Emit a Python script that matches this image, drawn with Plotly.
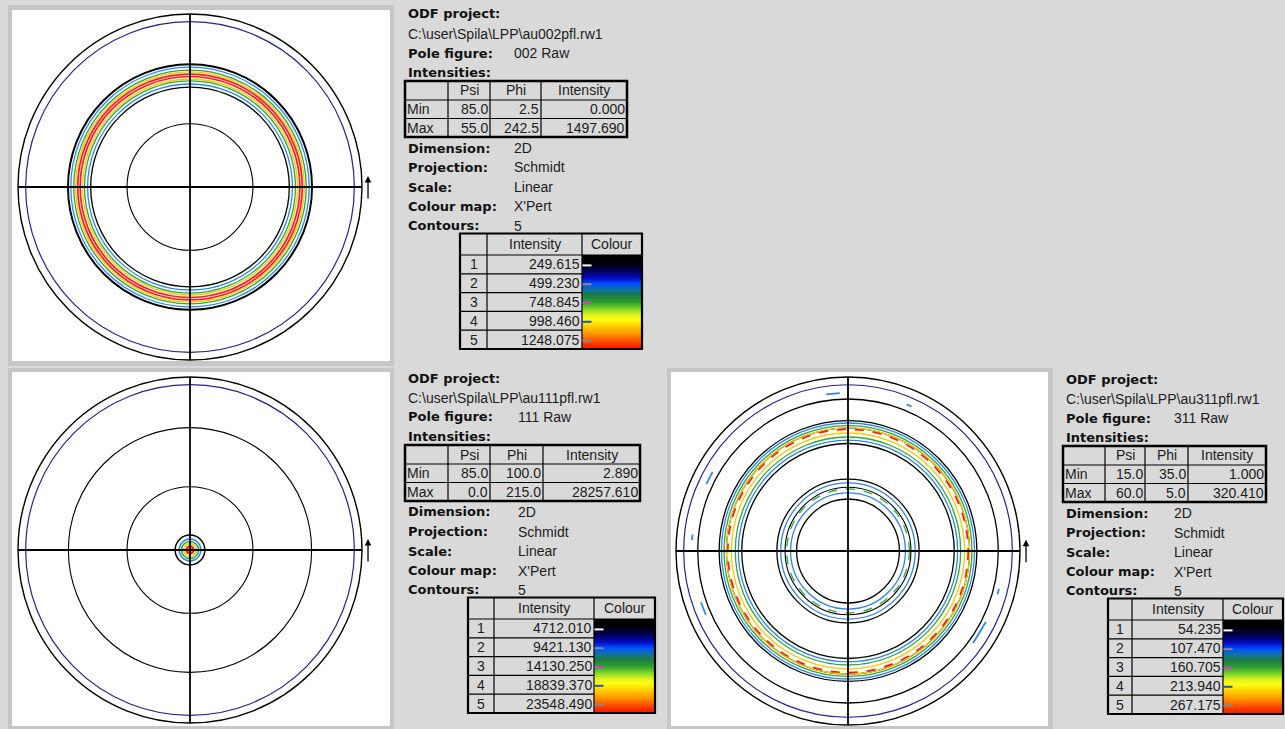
import numpy as np
import plotly.graph_objects as go

W, H = 1285, 729

# ---------------------------------------------------------------- data
pole_figures = ["002", "111", "311"]
odf_files = [
    "C:\\user\\Spila\\LPP\\au002pfl.rw1",
    "C:\\user\\Spila\\LPP\\au111pfl.rw1",
    "C:\\user\\Spila\\LPP\\au311pfl.rw1",
]
min_psi = [85.0, 85.0, 15.0]
min_phi = [2.5, 100.0, 35.0]
min_intensity = [0.000, 2.890, 1.000]
max_psi = [55.0, 0.0, 60.0]
max_phi = [242.5, 215.0, 5.0]
max_intensity = [1497.690, 28257.610, 320.410]

levels_002 = [249.615, 499.230, 748.845, 998.460, 1248.075]
levels_111 = [4712.010, 9421.130, 14130.250, 18839.370, 23548.490]
levels_311 = [54.235, 107.470, 160.705, 213.940, 267.175]

dimension = "2D"
projection = "Schmidt"
scale_type = "Linear"
colour_map = "X'Pert"

# reference circles of the net (psi, degrees) and the measurement limit
grid_psi = [30, 60, 90]
limit_psi = 85

# contour rings: psi of each iso-intensity line and its contour level
rings_002_psi = [60.4, 58.7, 57.1, 56.1, 55.0, 53.7, 52.4, 51.4, 49.8, 48.2]
rings_002_level = [1, 2, 3, 4, 5, 5, 4, 3, 2, 1]
rings_111_psi = [7.0, 5.1, 4.0, 3.0, 1.6]
rings_111_level = [1, 2, 3, 4, 5]
rings_311_psi = [76.3, 64.0, 62.7, 61.3, 60.0, 59.2, 57.3, 55.2, 53.6, 51.8,
                 34.0, 32.1, 29.2, 27.3, 24.4]
rings_311_level = [1, 1, 2, 3, 4, 5, 4, 3, 2, 1, 1, 2, 3, 2, 1]
# small level-2 islands near the rim of the 311 figure (psi, azimuth range)
islands_311_psi = [80.0, 80.0, 80.0, 79.5, 79.0, 80.0, 79.5]
islands_311_az_from = [93, 66, 150, 199, 324, 174, 344]
islands_311_az_to = [98, 68, 155, 204, 333, 176, 346]

# ---------------------------------------------------------------- styles
LEVEL_COLOURS = {1: "#000000", 2: "#2f86e6", 3: "#2fa63a", 4: "#f2cc00", 5: "#ff1a1a"}
BROKEN_311 = {5, 12}          # ring indices drawn as broken lines
XPERT_SCALE = [
    [0.00, "#000000"], [0.07, "#000000"], [0.17, "#00005e"], [0.25, "#0010d0"],
    [0.30, "#0050ff"], [0.36, "#1070b0"], [0.42, "#1a7a40"], [0.50, "#30a030"],
    [0.57, "#80d828"], [0.63, "#e0f020"], [0.68, "#ffff10"], [0.75, "#ffd000"],
    [0.83, "#ff9800"], [0.91, "#ff5000"], [1.00, "#ff0a00"],
]
LEVEL_TICKS = ["#ffffff", "#8a8a8a", "#d040d0", "#2050c0", "#8a8a8a"]
BG = "#d9d9d9"
FRAME = "#c6c6c6"
TXT = "#1c1c1c"
REG_FONT = "Liberation Sans, Arial, sans-serif"
BOLD_FONT = "DejaVu Sans, Verdana, sans-serif"

panels = [
    dict(frame=(8, 5, 394, 366), plot=(12, 10, 390, 361), centre=(190, 187), rx=172, ry=173),
    dict(frame=(8, 368, 394, 729), plot=(12, 372, 390, 726), centre=(190, 550), rx=172, ry=173),
    dict(frame=(667, 368, 1053, 729), plot=(671, 372, 1048, 726), centre=(848, 551), rx=172, ry=174),
]
info_boxes = [
    dict(x0=407, y0=14, xv=513, tcols=[405, 448, 490, 541, 627], ccols=[460, 487, 582, 642]),
    dict(x0=407, y0=378, xv=517, tcols=[405, 448, 490, 543, 640], ccols=[468, 494, 594, 655]),
    dict(x0=1065, y0=379, xv=1173, tcols=[1063, 1105, 1145, 1188, 1266], ccols=[1108, 1132, 1223, 1283]),
]


def schmidt(psi):
    """Equal-area (Schmidt) radius, 1 at psi = 90 deg."""
    return np.sqrt(2.0) * np.sin(np.radians(np.asarray(psi, dtype=float)) / 2.0)


def px(x):
    return x / W


def py(y):
    return 1 - y / H


fig = go.Figure()
shapes = []
annotations = []
layout_axes = {}


def paper_rect(x0, y0, x1, y1, fill=None, line_color=None, lw=0, layer="above"):
    shapes.append(dict(type="rect", xref="paper", yref="paper",
                       x0=px(x0), x1=px(x1), y0=py(y1), y1=py(y0),
                       fillcolor=fill if fill else "rgba(0,0,0,0)",
                       line=dict(color=line_color or "rgba(0,0,0,0)", width=lw),
                       layer=layer))


def paper_line(x0, y0, x1, y1, color="#000000", lw=1.0):
    shapes.append(dict(type="line", xref="paper", yref="paper",
                       x0=px(x0), x1=px(x1), y0=py(y0), y1=py(y1),
                       line=dict(color=color, width=lw)))


def text(x, y, s, anchor="left", bold=False, size=None):
    if bold:
        font = dict(family=BOLD_FONT, size=size or 13, color="#111111", weight="bold")
    else:
        font = dict(family=REG_FONT, size=size or 14, color=TXT)
    annotations.append(dict(xref="paper", yref="paper", x=px(x), y=py(y), text=s,
                            showarrow=False, xanchor=anchor, yanchor="middle",
                            borderpad=0, font=font))


# ---------------------------------------------------------------- pole figures
ring_sets = [
    (rings_002_psi, rings_002_level, set()),
    (rings_111_psi, rings_111_level, set()),
    (rings_311_psi, rings_311_level, BROKEN_311),
]

for i, p in enumerate(panels):
    n = i + 1
    xa = "x" if n == 1 else f"x{n}"
    ya = "y" if n == 1 else f"y{n}"
    L, T, R, B = p["plot"]
    cx, cy = p["centre"]
    rx, ry = p["rx"], p["ry"]
    fx0, fy0, fx1, fy1 = p["frame"]
    paper_rect(fx0, fy0, fx1, fy1, fill=FRAME, layer="below")
    paper_rect(L, T, R, B, fill="#ffffff", layer="below")

    layout_axes["xaxis" if n == 1 else f"xaxis{n}"] = dict(
        domain=[px(L), px(R)], range=[(L - cx) / rx, (R - cx) / rx],
        visible=False, fixedrange=True, anchor=ya)
    layout_axes["yaxis" if n == 1 else f"yaxis{n}"] = dict(
        domain=[py(B), py(T)], range=[(cy - B) / ry, (cy - T) / ry],
        visible=False, fixedrange=True, anchor=xa)

    # net circles
    for g in grid_psi:
        r = float(schmidt(g))
        shapes.append(dict(type="circle", xref=xa, yref=ya, x0=-r, x1=r, y0=-r, y1=r,
                           line=dict(color="#000000", width=1.4 if g == 90 else 1.1),
                           layer="below"))
    r = float(schmidt(limit_psi))
    shapes.append(dict(type="circle", xref=xa, yref=ya, x0=-r, x1=r, y0=-r, y1=r,
                       line=dict(color="#24248f", width=1.2), layer="below"))

    # contour rings
    psis, lvls, broken = ring_sets[i]
    for k, (ps, lv) in enumerate(zip(psis, lvls)):
        r = float(schmidt(ps))
        width = 1.3
        if i == 1:
            width = 2.6 if lv == 5 else 1.5
        elif lv == 5:
            width = 1.7
        shapes.append(dict(type="circle", xref=xa, yref=ya, x0=-r, x1=r, y0=-r, y1=r,
                           line=dict(color=LEVEL_COLOURS[lv], width=width,
                                     dash="dash" if k in broken else "solid"),
                           layer="below"))

    # cross-hair through the centre
    fig.add_trace(go.Scatter(x=[-1, 1, None, 0, 0], y=[0, 0, None, -1, 1], mode="lines",
                             line=dict(color="#000000", width=1.8),
                             xaxis=xa, yaxis=ya, hoverinfo="skip", showlegend=False))

    # small reference arrow at the right of the net
    annotations.append(dict(xref=xa, yref=ya, x=1.035, y=0.064, text="", showarrow=True,
                            ax=0, ay=24, arrowhead=2, arrowsize=1, arrowwidth=1.3,
                            arrowcolor="#000000"))

    if i == 2:
        ri = schmidt(islands_311_psi)
        xs, ys = [], []
        for rr, a0, a1 in zip(ri, islands_311_az_from, islands_311_az_to):
            for a in (a0, a1):
                xs.append(rr * np.cos(np.radians(a)))
                ys.append(rr * np.sin(np.radians(a)))
            xs.append(None)
            ys.append(None)
        fig.add_trace(go.Scatter(x=xs, y=ys, mode="lines",
                                 line=dict(color=LEVEL_COLOURS[2], width=1.8),
                                 xaxis=xa, yaxis=ya, hoverinfo="skip", showlegend=False))

# ---------------------------------------------------------------- info boxes
contour_sets = [levels_002, levels_111, levels_311]

for i, b in enumerate(info_boxes):
    x0, y0, xv = b["x0"], b["y0"], b["xv"]
    text(x0, y0, "ODF project:", bold=True)
    text(x0, y0 + 20, odf_files[i])
    text(x0, y0 + 39, "Pole figure:", bold=True)
    text(xv, y0 + 39, f"{pole_figures[i]} Raw")
    text(x0, y0 + 58, "Intensities:", bold=True)

    # min / max table
    tc = b["tcols"]
    ty = [y0 + 67, y0 + 86, y0 + 104.5, y0 + 123]
    for xx in tc[1:-1]:
        paper_line(xx, ty[0], xx, ty[-1], lw=1.2)
    for yy in ty[1:-1]:
        paper_line(tc[0], yy, tc[-1], yy, lw=1.2)
    paper_rect(tc[0], ty[0], tc[-1], ty[-1], line_color="#000000", lw=2.5)
    hdr_y = (ty[0] + ty[1]) / 2
    for c, lab in enumerate(["Psi", "Phi", "Intensity"]):
        text((tc[c + 1] + tc[c + 2]) / 2, hdr_y, lab, anchor="center")
    rows = [("Min", min_psi[i], min_phi[i], min_intensity[i]),
            ("Max", max_psi[i], max_phi[i], max_intensity[i])]
    for r_i, (lab, ps, ph, it) in enumerate(rows):
        yc = (ty[r_i + 1] + ty[r_i + 2]) / 2
        text(tc[0] + 1, yc, lab)
        text(tc[2] - 1.5, yc, f"{ps:.1f}", anchor="right")
        text(tc[3] - 1.5, yc, f"{ph:.1f}", anchor="right")
        text(tc[4] - 1.5, yc, f"{it:.3f}", anchor="right")

    text(x0, y0 + 134, "Dimension:", bold=True)
    text(xv, y0 + 134, dimension)
    text(x0, y0 + 153.5, "Projection:", bold=True)
    text(xv, y0 + 153.5, projection)
    text(x0, y0 + 173, "Scale:", bold=True)
    text(xv, y0 + 173, scale_type)
    text(x0, y0 + 192.5, "Colour map:", bold=True)
    text(xv, y0 + 192.5, colour_map)
    text(x0, y0 + 211.5, "Contours:", bold=True)
    levels = contour_sets[i]
    text(xv, y0 + 211.5, str(len(levels)))

    # contour level table with the colour ramp
    cc = b["ccols"]
    ctop = y0 + 219.5
    chead = ctop + 21.5
    cy_edges = [chead + 18.8 * k for k in range(len(levels) + 1)]
    cbot = cy_edges[-1]

    n_ax = 4 + i
    layout_axes[f"xaxis{n_ax}"] = dict(domain=[px(cc[2]), px(cc[3])], range=[0, 1],
                                       visible=False, fixedrange=True, anchor=f"y{n_ax}")
    layout_axes[f"yaxis{n_ax}"] = dict(domain=[py(cbot), py(chead)], range=[1, 0],
                                       visible=False, fixedrange=True, anchor=f"x{n_ax}")
    fig.add_trace(go.Heatmap(z=[[0, 0], [1, 1]], x=[0, 1], y=[0, 1], zmin=0, zmax=1,
                             zsmooth="best", colorscale=XPERT_SCALE, showscale=False,
                             hoverinfo="skip", xaxis=f"x{n_ax}", yaxis=f"y{n_ax}"))

    for xx in cc[1:-1]:
        paper_line(xx, ctop, xx, cbot, lw=1.2)
    paper_line(cc[0], chead, cc[-1], chead, lw=1.2)
    for yy in cy_edges[1:-1]:
        paper_line(cc[0], yy, cc[2], yy, lw=1.2)
    paper_rect(cc[0], ctop, cc[-1], cbot, line_color="#000000", lw=2.2)
    text((cc[1] + cc[2]) / 2, (ctop + chead) / 2, "Intensity", anchor="center")
    text((cc[2] + cc[3]) / 2, (ctop + chead) / 2, "Colour", anchor="center")
    for k, lv in enumerate(levels):
        yc = (cy_edges[k] + cy_edges[k + 1]) / 2
        text((cc[0] + cc[1]) / 2, yc, str(k + 1), anchor="center")
        text(cc[2] - 1.5, yc, f"{lv:.3f}", anchor="right")
        paper_line(cc[2] + 0.5, yc + 1, cc[2] + 9.5, yc + 1, color=LEVEL_TICKS[k], lw=2)

fig.update_layout(
    width=W, height=H, autosize=False,
    margin=dict(l=0, r=0, t=0, b=0, pad=0),
    paper_bgcolor=BG, plot_bgcolor="#ffffff",
    showlegend=False,
    shapes=shapes, annotations=annotations,
    **layout_axes,
)

fig.write_html("out.html")
